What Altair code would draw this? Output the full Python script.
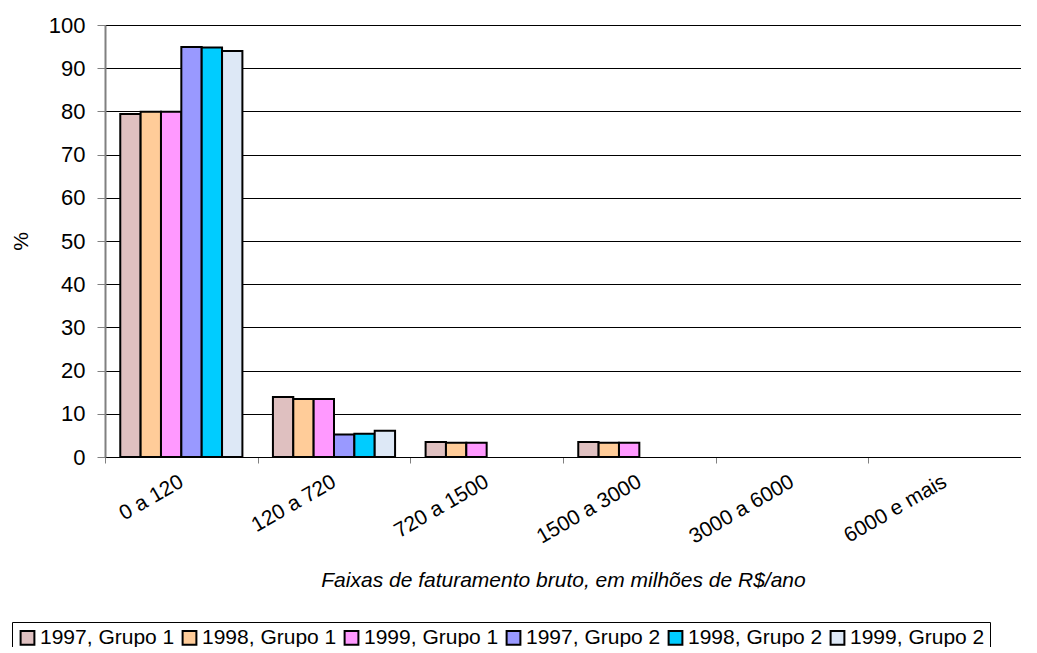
import altair as alt
import pandas as pd

categories = ["0 a 120", "120 a 720", "720 a 1500", "1500 a 3000", "3000 a 6000", "6000 e mais"]
series = ["1997, Grupo 1", "1998, Grupo 1", "1999, Grupo 1", "1997, Grupo 2", "1998, Grupo 2", "1999, Grupo 2"]
colors = ["#DFC0C0", "#FFCC99", "#FF99FF", "#9999FF", "#00CCFF", "#DDE8F6"]

v1997_g1 = [79.4, 13.9, 3.5, 3.5, None, None]
v1998_g1 = [79.9, 13.4, 3.3, 3.3, None, None]
v1999_g1 = [79.9, 13.4, 3.3, 3.3, None, None]
v1997_g2 = [94.9, 5.2, None, None, None, None]
v1998_g2 = [94.8, 5.4, None, None, None, None]
v1999_g2 = [94.0, 6.1, None, None, None, None]

all_vals = [v1997_g1, v1998_g1, v1999_g1, v1997_g2, v1998_g2, v1999_g2]
rows = []
for s, vals in zip(series, all_vals):
    for c, v in zip(categories, vals):
        if v is not None:
            rows.append({"faixa": c, "serie": s, "valor": v})
df = pd.DataFrame(rows)

FONT = "Liberation Sans"

chart = alt.Chart(df).mark_bar(stroke="black", strokeWidth=2).encode(
    x=alt.X("faixa:N", sort=categories,
            scale=alt.Scale(domain=categories, paddingInner=0, paddingOuter=0),
            axis=alt.Axis(title="Faixas de faturamento bruto, em milhões de R$/ano",
                          titleFontStyle="italic", titleFontWeight="normal", titleFontSize=21,
                          titleFont=FONT, titleColor="black", titlePadding=22,
                          labelAngle=-30, labelAlign="right", labelBaseline="middle",
                          labelFontSize=21, labelFont=FONT, labelColor="black",
                          labelPadding=17, tickBand="extent", tickSize=6,
                          tickColor="#808080", domainColor="black", domainWidth=1,
                          grid=False)),
    xOffset=alt.XOffset("serie:N", sort=series,
                        scale=alt.Scale(domain=series, paddingInner=0, paddingOuter=0.75)),
    y=alt.Y("valor:Q", scale=alt.Scale(domain=[0, 100]),
            axis=alt.Axis(title="%", titleFontSize=21, titleFontWeight="normal", titleFont=FONT,
                          titleColor="black", titlePadding=17,
                          values=list(range(0, 101, 10)), labelFontSize=22, labelFont=FONT,
                          labelColor="black", labelPadding=12, tickSize=8, tickColor="#808080",
                          domainColor="#808080", domainWidth=2,
                          grid=True, gridColor="black", gridWidth=1)),
    color=alt.Color("serie:N", sort=series,
                    scale=alt.Scale(domain=series, range=colors),
                    legend=alt.Legend(title=None, orient="none", legendX=-93, legendY=597,
                                      direction="horizontal", columns=6,
                                      symbolType="square", symbolSize=190,
                                      symbolStrokeColor="black", symbolStrokeWidth=2,
                                      symbolOpacity=1,
                                      labelFontSize=21, labelFont=FONT, labelColor="black",
                                      labelOffset=2, columnPadding=3,
                                      strokeColor="black", padding=5, fillColor="white")),
).properties(
    width=916, height=432,
    autosize=alt.AutoSizeParams(type="none"),
    padding={"left": 97, "top": 17, "right": 0, "bottom": 190},
).configure_view(stroke=None).configure(background="white")

chart.save("out.html", embed_options={"renderer": "svg", "actions": False})
